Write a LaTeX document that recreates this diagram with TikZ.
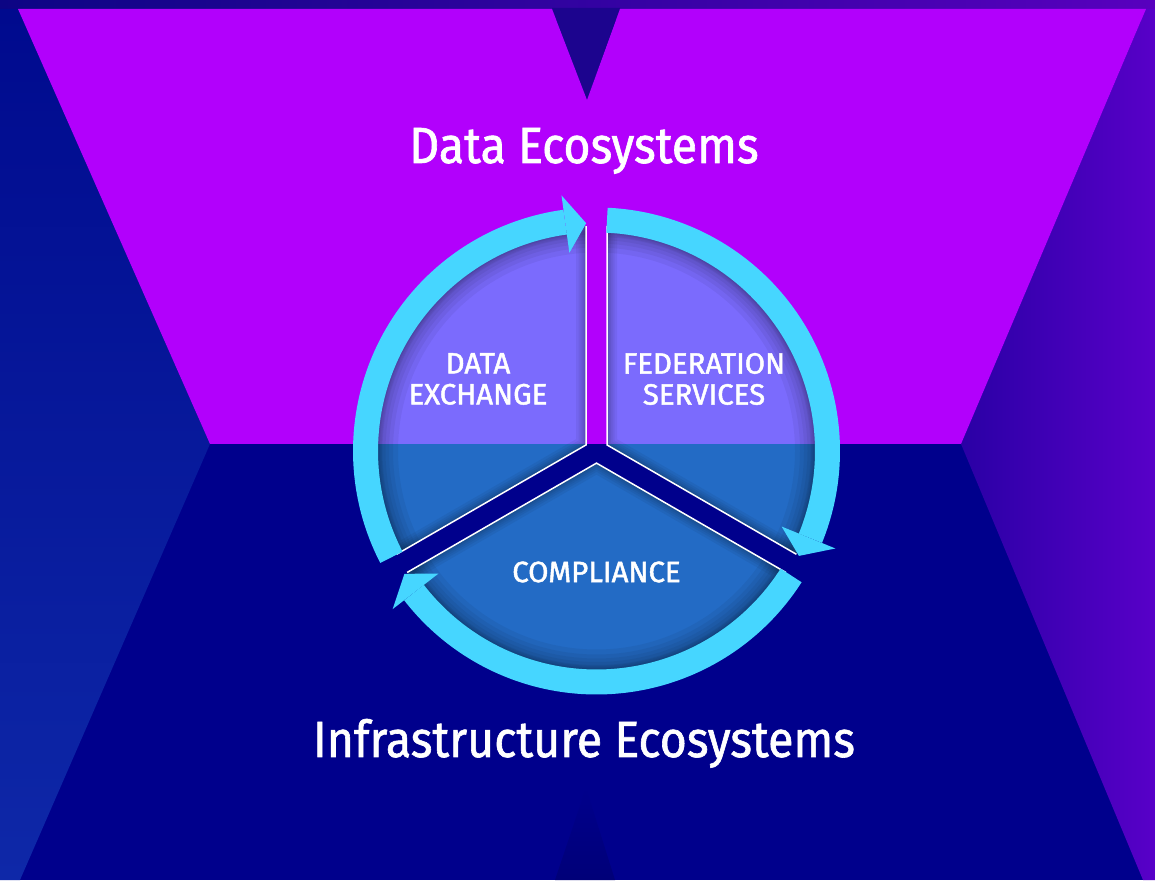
\documentclass[tikz,border=0pt]{standalone}
\usepackage{fontspec}
\setmainfont{Fira Sans}
\newfontfamily\titlefont[FakeStretch=0.915,FakeBold=1.2]{Fira Sans}
\newfontfamily\labfont[FakeBold=1.6]{Fira Sans}
\definecolor{bgnavy}{RGB}{0,0,140}
\definecolor{navyshadow}{RGB}{0,0,120}
\definecolor{leftlight}{RGB}{14,40,168}
\definecolor{leftdark}{RGB}{0,10,142}
\definecolor{rightdark}{RGB}{42,0,165}
\definecolor{rightlight}{RGB}{88,0,200}
\definecolor{stripleft}{RGB}{12,5,132}
\definecolor{stripright}{RGB}{88,0,190}
\definecolor{notchc}{RGB}{28,4,142}
\definecolor{wpurple}{RGB}{178,0,252}
\definecolor{ringc}{RGB}{70,214,255}
\tikzset{
  ringarc/.style={draw=ringc, line width=25pt},
  arrowtip/.style={fill=ringc},
  sectorfill/.style={fill=ringc, fill opacity=0.5},
  sectoredge/.style={draw=white, line width=1.5pt, line join=miter},
  innershadow/.style={draw=black, draw opacity=0.05},
  titletext/.style={text=white, inner sep=0pt, font=\titlefont\fontsize{50.8}{56}\selectfont},
  labtext/.style={text=white, inner sep=0pt, align=center, font=\labfont\fontsize{29.4}{31}\selectfont}
}
\newcommand{\sectorpath}[1]{(#1:12.12) -- ({#1-60+2.675}:225) arc[start angle={#1-60+2.675}, end angle={#1+60-2.675}, radius=225] -- cycle}
\begin{document}
\begin{tikzpicture}[x=1pt,y=1pt]
\useasboundingbox (0,0) rectangle (1155,880);
% background
\fill[bgnavy] (0,0) rectangle (1155,880);
\shade[left color=stripleft, right color=stripright] (0,860) rectangle (1155,880);
\fill[notchc] (552,872) -- (587,780) -- (620,872) -- cycle;
\shade[top color=leftdark, bottom color=leftlight] (0,0) -- (20,0) -- (210,436) -- (18,871) -- (0,871) -- cycle;
\shade[left color=rightdark, right color=rightlight] (1155,0) -- (1143,0) -- (961,436) -- (1146,871) -- (1155,871) -- cycle;
\fill[wpurple] (18,871) -- (552,871) -- (587,780) -- (620,871) -- (1146,871) -- (961,436) -- (210,436) -- cycle;
\shade[top color=bgnavy, bottom color=navyshadow] (555,0) -- (586,92) -- (615,0) -- cycle;
% pie
\begin{scope}[shift={(596.5,429)}]
  \foreach \p in {150,30,270} {
    \fill[sectorfill] \sectorpath{\p};
    \begin{scope}
      \clip \sectorpath{\p};
      \foreach \w in {40,30,22,15,9,4} {
        \draw[innershadow, line width=\w pt] (0,0) circle[radius=218.5];
        \draw[innershadow, line width=0.5*\w pt] \sectorpath{\p};
      }
    \end{scope}
    \draw[sectoredge] ({\p-60+2.675}:225) -- (\p:12.12) -- ({\p+60-2.675}:225);
  }
  % ring arcs with arrowheads
  \draw[ringarc] (207.4:231) arc[start angle=207.4, end angle=97.8, radius=231];
  \fill[arrowtip] (97.8:200) -- (97.8:258) -- (92.6:228) -- cycle;
  \draw[ringarc] (87.4:231) arc[start angle=87.4, end angle=-22.2, radius=231];
  \fill[arrowtip] (-22.2:200) -- (-22.2:258) -- (-27.4:228) -- cycle;
  \draw[ringarc] (-32.6:231) arc[start angle=-32.6, end angle=-142.2, radius=231];
  \fill[arrowtip] (-142.2:200) -- (-142.2:258) -- (-147.4:228) -- cycle;
\end{scope}
% labels
\node[titletext, anchor=base] (dataeco) at (584,717) {Data Ecosystems};
\node[titletext, anchor=base] (infraeco) at (584,123) {Infrastructure Ecosystems};
\node[labtext] (dx) at (478,501) {DATA\\EXCHANGE};
\node[labtext] (fs) at (704,501) {FEDERATION\\SERVICES};
\node[labtext] (cp) at (596.5,308) {COMPLIANCE};
\end{tikzpicture}
\end{document}
